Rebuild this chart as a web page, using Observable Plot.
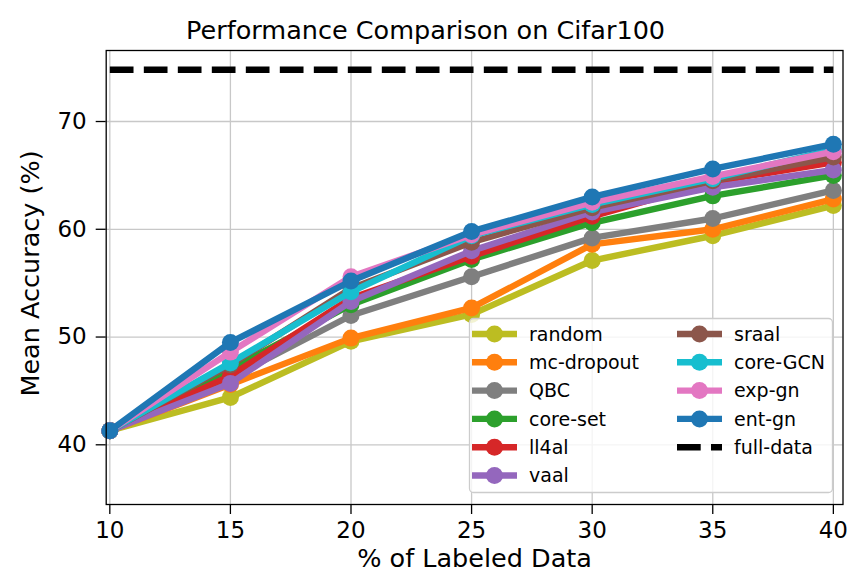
<!DOCTYPE html>
<html>
<head>
<meta charset="utf-8">
<script src="https://cdn.jsdelivr.net/npm/d3@7"></script>
<script src="https://cdn.jsdelivr.net/npm/@observablehq/plot@0.6"></script>
<style>
  html, body { margin: 0; padding: 0; background: #fff; }
  #chart svg { display: block; }
  #chart svg, #chart svg text { font-family: "DejaVu Sans", sans-serif !important; }
</style>
</head>
<body>
<div id="chart"></div>
<script>
// Percentage of labeled training data (x axis)
const labeled = [10, 15, 20, 25, 30, 35, 40];

// Mean accuracy (%) per active-learning method
const random    = [41.3, 44.4, 49.6, 52.1, 57.1, 59.4, 62.2];
const mcDropout = [41.3, 45.6, 49.9, 52.7, 58.6, 60.0, 62.8];
const qbc       = [41.3, 46.2, 52.0, 55.6, 59.2, 61.0, 63.6];
const coreSet   = [41.3, 47.0, 53.0, 57.2, 60.6, 63.1, 65.0];
const ll4al     = [41.3, 46.4, 53.6, 57.5, 61.2, 64.4, 66.2];
const vaal      = [41.3, 45.7, 53.3, 58.0, 61.6, 63.9, 65.5];
const sraal     = [41.3, 47.4, 54.5, 58.8, 62.0, 64.5, 66.7];
const coreGCN   = [41.3, 47.6, 54.2, 59.4, 62.3, 64.7, 67.4];
const expGn     = [41.3, 48.6, 55.6, 59.5, 62.5, 64.9, 67.2];
const entGn     = [41.3, 49.5, 55.2, 59.8, 63.0, 65.6, 67.9];

// Accuracy when training on the full dataset
const fullData = 74.8;

const methodNames  = ["random", "mc-dropout", "QBC", "core-set", "ll4al", "vaal", "sraal", "core-GCN", "exp-gn", "ent-gn"];
const methodValues = [random, mcDropout, qbc, coreSet, ll4al, vaal, sraal, coreGCN, expGn, entGn];
const methodColors = ["#bcbd22", "#ff7f0e", "#7f7f7f", "#2ca02c", "#d62728", "#9467bd", "#8c564b", "#17becf", "#e377c2", "#1f77b4"];

const xTicks = [10, 15, 20, 25, 30, 35, 40];
const yTicks = [40, 50, 60, 70];

const series = methodNames.map((name, i) => ({
  name,
  color: methodColors[i],
  rows: labeled.map((x, j) => ({x, y: methodValues[i][j], method: name}))
}));
const fullRows = [{x: labeled[0], y: fullData}, {x: labeled[labeled.length - 1], y: fullData}];

const W = 848, H = 578;
const lineW = 6.4, dotR = 8.5;
const FONT = "DejaVu Sans, sans-serif";
const gridColor = "#c8c8c8";

const marks = [
  Plot.gridX(xTicks, {stroke: gridColor, strokeOpacity: 1, strokeWidth: 1.3}),
  Plot.gridY(yTicks, {stroke: gridColor, strokeOpacity: 1, strokeWidth: 1.3}),
  Plot.line(fullRows, {x: "x", y: "y", stroke: "black", strokeWidth: lineW, strokeDasharray: "23.7,10.3", strokeLinecap: "butt"})
];
// each method: its line first, then its markers, in plotting order
for (const s of series) {
  marks.push(Plot.line(s.rows, {x: "x", y: "y", stroke: s.color, strokeWidth: lineW, strokeLinejoin: "round", strokeLinecap: "butt"}));
  marks.push(Plot.dot(s.rows, {x: "x", y: "y", fill: s.color, r: dotR, stroke: null}));
}
marks.push(
  Plot.frame({stroke: "black", strokeWidth: 1.3}),
  Plot.axisX(xTicks, {tickSize: 10, tickPadding: 7, fontSize: 23, stroke: "black", strokeWidth: 1.3, label: null}),
  Plot.axisY(yTicks, {tickSize: 10, tickPadding: 9.5, fontSize: 23, stroke: "black", strokeWidth: 1.3, label: null}),
  Plot.text(["% of Labeled Data"], {frameAnchor: "bottom", textAnchor: "middle", dy: 62, fontSize: 25.5, fill: "black"}),
  Plot.text(["Mean Accuracy (%)"], {frameAnchor: "left", textAnchor: "middle", dx: -75, dy: -4, rotate: -90, fontSize: 25.5, fill: "black"}),
  // title centred on the page width rather than on the plot frame
  Plot.text(["Performance Comparison on Cifar100"], {frameAnchor: "top", textAnchor: "middle", dx: -49, dy: -30, fontSize: 25.5, fill: "black"})
);

const chart = Plot.plot({
  width: W,
  height: H,
  marginLeft: 105.7,
  marginRight: 5.5,
  marginTop: 50,
  marginBottom: 74,
  x: {domain: [9.85, 40.4]},
  y: {domain: [34.46, 76.59]},
  style: {fontFamily: FONT, background: "white", color: "black"},
  marks
});
document.getElementById("chart").appendChild(chart);

// Legend in two columns over the lower right of the plot
const svg = d3.select(chart);
const lg = svg.append("g")
  .attr("font-family", FONT)
  .attr("font-size", 19)
  .attr("text-anchor", "start");
lg.append("rect")
  .attr("x", 469.5).attr("y", 318.5).attr("width", 363).attr("height", 174)
  .attr("rx", 4).attr("fill", "white").attr("fill-opacity", 0.8)
  .attr("stroke", "#cccccc").attr("stroke-width", 1.3);

const rowY0 = 334, rowStep = 28.3;
const legendItems = series.map(s => ({name: s.name, color: s.color, dashed: false}));
legendItems.push({name: "full-data", color: "black", dashed: true});
const perCol = 6;
legendItems.forEach((it, i) => {
  const col = i < perCol ? 0 : 1;
  const row = i < perCol ? i : i - perCol;
  const hx = col === 0 ? 472 : 677;
  const y = rowY0 + row * rowStep;
  const g = lg.append("g");
  g.append("line")
    .attr("x1", hx).attr("x2", hx + 45).attr("y1", y).attr("y2", y)
    .attr("stroke", it.color).attr("stroke-width", lineW)
    .attr("stroke-dasharray", it.dashed ? "23.7,10.3" : null);
  if (!it.dashed) {
    g.append("circle").attr("cx", hx + 22.5).attr("cy", y).attr("r", dotR).attr("fill", it.color);
  }
  g.append("text")
    .attr("x", hx + 57).attr("y", y).attr("dy", "0.36em")
    .attr("text-anchor", "start").attr("fill", "black")
    .text(it.name);
});
</script>
</body>
</html>
